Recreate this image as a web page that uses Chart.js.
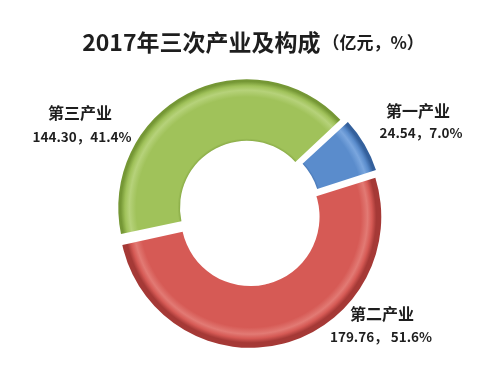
<!DOCTYPE html>
<html>
<head>
<meta charset="utf-8">
<script src="https://cdn.jsdelivr.net/npm/chart.js@4/dist/chart.umd.min.js"></script>
<style>
  html, body { margin: 0; padding: 0; background: #fff; }
  #wrap { width: 500px; height: 371px; position: relative; }
</style>
</head>
<body>
<div id="wrap"><canvas id="pieChart"></canvas></div>
<script>
// 2017年三次产业及构成
const categories = ['第一产业', '第二产业', '第三产业'];
const values = [24.54, 179.76, 144.30];
const percents = ['7.0%', '51.6%', '41.4%'];

const COLORS = {
  mid:  ['#5a8ccc', '#d65a55', '#a0c25a'],
  light: ['#7aa6de', '#e27a74', '#b6d27a'],
  edge: ['#34609c', '#a53936', '#759735'],
  text: '#1e1e1e',
};
const FONT = "'Noto Sans CJK SC', 'Noto Sans', sans-serif";

// radial gradient to fake the bevelled look of the ring
function ringFill(ctx) {
  const chart = ctx.chart;
  const i = ctx.dataIndex;
  const arc = chart.getDatasetMeta(0).data[i];
  if (!arc || !arc.outerRadius) return COLORS.mid[i];
  const { x, y, innerRadius, outerRadius } = arc;
  const g = chart.ctx.createRadialGradient(x, y, innerRadius, x, y, outerRadius);
  g.addColorStop(0, COLORS.edge[i]);
  g.addColorStop(0.08, COLORS.mid[i]);
  g.addColorStop(0.75, COLORS.mid[i]);
  g.addColorStop(0.86, COLORS.light[i]);
  g.addColorStop(0.93, COLORS.mid[i]);
  g.addColorStop(1, COLORS.edge[i]);
  return g;
}

// title with a smaller unit part, and the outside labels
const textPlugin = {
  id: 'texts',
  afterDraw(chart) {
    const c = chart.ctx;
    const arc = chart.getDatasetMeta(0).data[0];
    const cx = arc.x, cy = arc.y;
    c.save();
    c.fillStyle = COLORS.text;
    c.textBaseline = 'middle';

    const main = '2017年三次产业及构成';
    const unit = '（亿元，%）';
    c.font = 'bold 23px ' + FONT;
    const w1 = c.measureText(main).width;
    c.font = 'bold 17px ' + FONT;
    const w2 = c.measureText(unit).width;
    const tx = 252 - (w1 + w2) / 2;
    c.textAlign = 'left';
    c.font = 'bold 23px ' + FONT;
    c.fillText(main, tx, 42);
    c.font = 'bold 17px ' + FONT;
    c.fillText(unit, tx + w1 + 2, 43);

    // label anchors relative to ring centre: name line, value line
    const spots = [
      { nx: 169, ny: -101, vx: 172, vy: -79 },
      { nx: 133, ny: 102, vx: 132, vy: 125 },
      { nx: -169, ny: -99, vx: -167, vy: -75 },
    ];
    c.textAlign = 'center';
    categories.forEach((name, i) => {
      const s = spots[i];
      c.font = 'bold 16px ' + FONT;
      c.fillText(name, cx + s.nx, cy + s.ny);
      c.font = 'bold 13.5px ' + FONT;
      c.fillText(values[i].toFixed(2) + '，' + (i === 1 ? ' ' : '') + percents[i], cx + s.vx, cy + s.vy);
    });
    c.restore();
  }
};

const chart = new Chart(document.getElementById('pieChart'), {
  type: 'doughnut',
  data: {
    labels: categories,
    datasets: [{
      data: values,
      backgroundColor: ringFill,
      borderWidth: 0,
      offset: 20,
    }]
  },
  options: {
    responsive: true,
    maintainAspectRatio: false,
    animation: false,
    rotation: 47,
    cutout: '51%',
    layout: { padding: { top: 76, bottom: 23, left: 0, right: 2 } },
    plugins: {
      legend: { display: false },
      tooltip: { enabled: false },
    }
  },
  plugins: [textPlugin]
});
// second pass so the gradients see the arc geometry
chart.update();
</script>
</body>
</html>
